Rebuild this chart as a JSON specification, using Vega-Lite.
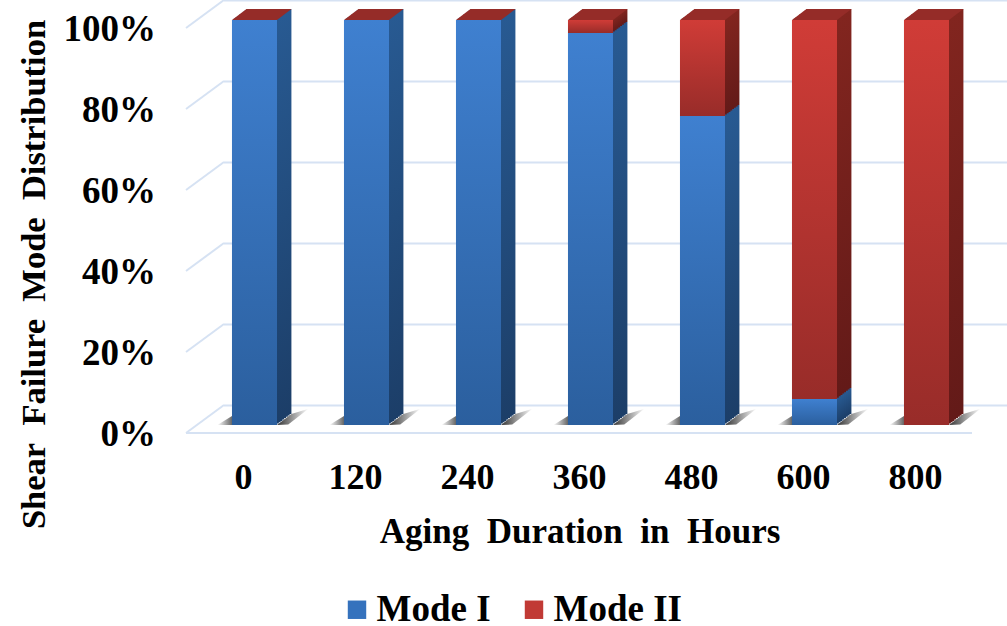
{
"$schema":"https://vega.github.io/schema/vega-lite/v6.json",
"width":784,"height":405,
"autosize":{"type":"none"},
"padding":{"left":198.5,"top":20,"right":24.5,"bottom":201},
"background":"white",
"config":{"view":{"stroke":null},"font":"Liberation Serif"},
"layer":[
{"data":{"values":[{"tick":0},{"tick":20},{"tick":40},{"tick":60},{"tick":80},{"tick":100}]},
 "layer":[
 {"mark":{"type":"rule","color":"#d6e2f3","strokeWidth":2,"yOffset":-19.5,"y2Offset":-19.5},
  "encoding":{"x":{"value":25.5},"x2":{"value":809},"y":{"field":"tick","type":"quantitative","scale":{"domain":[0,100],"nice":false},
   "axis":{"values":[0,20,40,60,80,100],"labelExpr":"datum.value+'%'","grid":false,"domain":false,"ticks":false,"labelFont":"Liberation Serif","labelFontWeight":"bold","labelFontSize":37,"labelColor":"#000","labelPadding":43,"labelOffset":9,"title":"Shear\u00a0 Failure\u00a0 Mode\u00a0 Distribution","titleFont":"Liberation Serif","titleFontWeight":"bold","titleFontSize":34.5,"titleColor":"#000","titleX":-147,"titleY":254,"titleAngle":-90}}}},
 {"mark":{"type":"point","shape":"M-1,0.737L1,-0.737","filled":false,"size":1444,"opacity":1,"stroke":"#d6e2f3","strokeWidth":2,"yOffset":-6},
  "encoding":{"x":{"value":6.5},"y":{"field":"tick","type":"quantitative"}}},
 {"transform":[{"filter":"datum.tick==0"}],
  "mark":{"type":"rule","color":"#d6e2f3","strokeWidth":2,"yOffset":8,"y2Offset":8},
  "encoding":{"x":{"value":-12.5},"x2":{"value":773.5},"y":{"field":"tick","type":"quantitative"}}}
 ]},
{"data":{"values":[
 {"duration":0,"mode":"Mode I","value":100},{"duration":0,"mode":"Mode II","value":0},
 {"duration":120,"mode":"Mode I","value":100},{"duration":120,"mode":"Mode II","value":0},
 {"duration":240,"mode":"Mode I","value":100},{"duration":240,"mode":"Mode II","value":0},
 {"duration":360,"mode":"Mode I","value":96.8},{"duration":360,"mode":"Mode II","value":3.2},
 {"duration":480,"mode":"Mode I","value":76.3},{"duration":480,"mode":"Mode II","value":23.7},
 {"duration":600,"mode":"Mode I","value":6.4},{"duration":600,"mode":"Mode II","value":93.6},
 {"duration":800,"mode":"Mode I","value":0},{"duration":800,"mode":"Mode II","value":100}
 ]},
 "transform":[{"stack":"value","groupby":["duration"],"sort":[{"field":"mode","order":"ascending"}],"as":["y0","y1"]}],
 "encoding":{"x":{"field":"duration","type":"ordinal","scale":{"paddingInner":0.598,"paddingOuter":0.299},
   "axis":{"labelAngle":0,"domain":false,"ticks":false,"labelFont":"Liberation Serif","labelFontWeight":"bold","labelFontSize":36,"labelColor":"#000","labelPadding":35,"labelOffset":-11,"title":"Aging\u00a0 Duration\u00a0 in\u00a0 Hours","titleFont":"Liberation Serif","titleFontWeight":"bold","titleFontSize":35,"titleColor":"#000","titleX":381,"titleY":89}}},
 "layer":[
 {"transform":[{"filter":"datum.mode=='Mode I'"}],
  "mark":{"type":"point","shape":"M1,0L1.64,-0.49L2.4,-0.72L1.5,-0.02Z","filled":true,"size":2025,"opacity":1,
   "fill":{"gradient":"linear","x1":0,"y1":0,"x2":1,"y2":0,"stops":[{"offset":0,"color":"#333333"},{"offset":1,"color":"#ffffff"}]}},
  "encoding":{"y":{"datum":0,"type":"quantitative"}}},
 {"transform":[{"filter":"datum.mode=='Mode I'"}],
  "mark":{"type":"point","shape":"M-1,0L-1.65,0L-1,-0.4Z","filled":true,"size":2025,"opacity":1,
   "fill":{"gradient":"linear","x1":0,"y1":0,"x2":1,"y2":0,"stops":[{"offset":0,"color":"#ffffff"},{"offset":1,"color":"#666666"}]}},
  "encoding":{"y":{"datum":0,"type":"quantitative"}}},
 {"encoding":{"y":{"field":"y0","type":"quantitative"},"y2":{"field":"y1"},
   "color":{"condition":{"test":"datum.mode=='Mode I'","value":{"gradient":"linear","x1":0,"y1":0,"x2":0,"y2":1,"stops":[{"offset":0,"color":"#285a92"},{"offset":1,"color":"#1c3e68"}]}},
     "value":{"gradient":"linear","x1":0,"y1":0,"x2":0,"y2":1,"stops":[{"offset":0,"color":"#82251f"},{"offset":1,"color":"#631a18"}]}}},
  "layer":[
  {"mark":{"type":"bar","xOffset":14.4,"x2Offset":14.4,"yOffset":-11,"y2Offset":-11}},
  {"mark":{"type":"bar","xOffset":12.6,"x2Offset":12.6,"yOffset":-9.6,"y2Offset":-9.6}},
  {"mark":{"type":"bar","xOffset":10.8,"x2Offset":10.8,"yOffset":-8.25,"y2Offset":-8.25}},
  {"mark":{"type":"bar","xOffset":9,"x2Offset":9,"yOffset":-6.9,"y2Offset":-6.9}},
  {"mark":{"type":"bar","xOffset":7.2,"x2Offset":7.2,"yOffset":-5.5,"y2Offset":-5.5}},
  {"mark":{"type":"bar","xOffset":5.4,"x2Offset":5.4,"yOffset":-4.1,"y2Offset":-4.1}},
  {"mark":{"type":"bar","xOffset":3.6,"x2Offset":3.6,"yOffset":-2.75,"y2Offset":-2.75}},
  {"mark":{"type":"bar","xOffset":1.8,"x2Offset":1.8,"yOffset":-1.4,"y2Offset":-1.4}}
  ]},
 {"mark":{"type":"bar"},
  "encoding":{"y":{"field":"y0","type":"quantitative"},"y2":{"field":"y1"},
   "color":{"field":"mode","type":"nominal","scale":{"domain":["Mode I","Mode II"],"range":["#3572bd","#c13a35"]},
    "legend":{"orient":"none","legendX":140,"legendY":571,"direction":"horizontal","columns":2,"title":null,"symbolType":"square","symbolSize":340,"symbolStrokeWidth":0,"labelFont":"Liberation Serif","labelFontWeight":"bold","labelFontSize":37,"labelColor":"#000","labelOffset":1,"columnPadding":24,"labelLimit":300,"symbolOpacity":1}}}},
 {"mark":{"type":"bar"},
  "encoding":{"y":{"field":"y0","type":"quantitative"},"y2":{"field":"y1"},
   "color":{"condition":{"test":"datum.mode=='Mode I'","value":{"gradient":"linear","x1":0,"y1":0,"x2":0,"y2":1,"stops":[{"offset":0,"color":"#3f80d0"},{"offset":1,"color":"#2b5f9e"}]}},
     "value":{"gradient":"linear","x1":0,"y1":0,"x2":0,"y2":1,"stops":[{"offset":0,"color":"#d03c37"},{"offset":1,"color":"#982c29"}]}}}},
 {"transform":[{"filter":"datum.mode=='Mode II'"}],
  "mark":{"type":"point","shape":"M-1,0L-0.356,-0.489L1.644,-0.489L1,0Z","filled":true,"size":2025,"opacity":1,"color":"#952c28"},
  "encoding":{"y":{"field":"y1","type":"quantitative"}}}
 ]}
]
}
